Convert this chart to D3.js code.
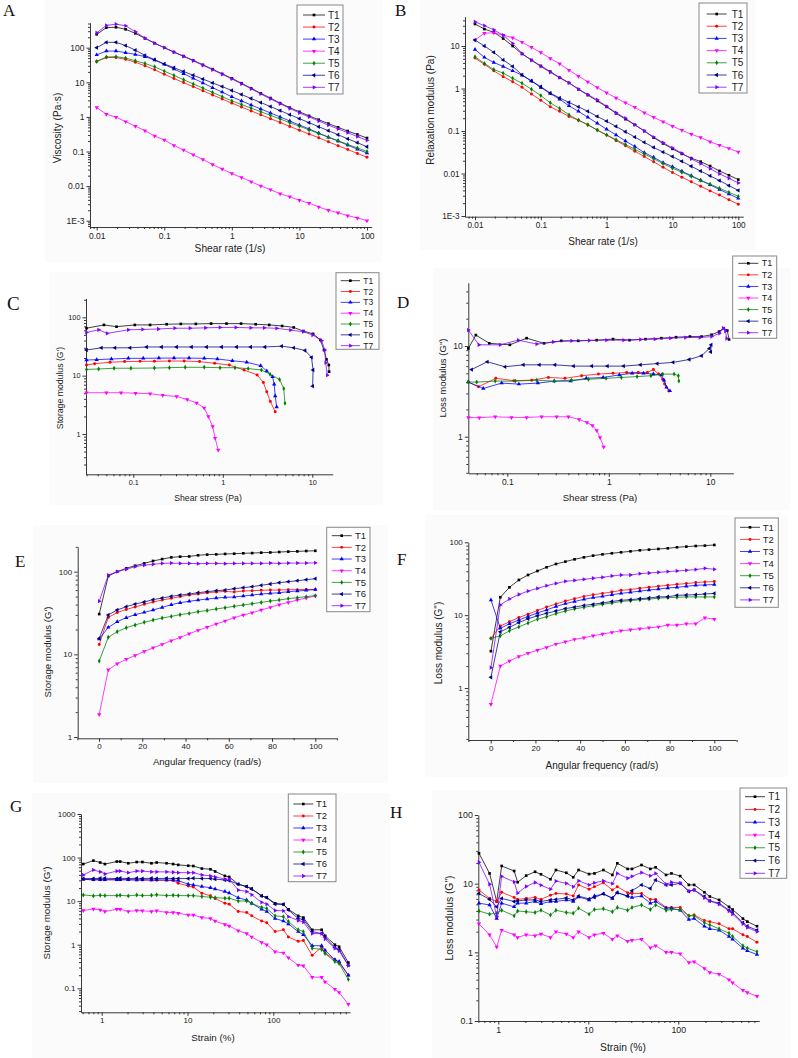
<!DOCTYPE html>
<html><head><meta charset="utf-8">
<script src="https://cdn.jsdelivr.net/npm/d3@7"></script>
<style>body{margin:0;background:#fff}svg{display:block}</style>
</head><body><svg id="c" width="798" height="1058"></svg>
<script>
// ---------------- DATA ----------------
const seriesNames = ["T1","T2","T3","T4","T5","T6","T7"];
const seriesColors = ["#000000","#ff0000","#0000ff","#ff00ff","#008000","#000080","#8000ff"];

// Panel A & B: shear rate (1/s)
const shearRate = [0.01,0.0139,0.0193,0.0268,0.0373,0.0518,0.072,0.1,0.139,0.193,0.268,0.373,0.518,0.72,1,1.39,1.93,2.68,3.73,5.18,7.2,10,13.9,19.3,26.8,37.3,51.8,72,100];
const viscosity = [
  [243,380,390,340,260,186,135,100,75,57,43,32,24,17.5,13,9.4,6.7,4.8,3.5,2.5,1.85,1.4,1.07,0.83,0.64,0.5,0.39,0.31,0.245],
  [40,52,52,46,38,30,23,17,12.9,9.8,7.5,5.7,4.3,3.3,2.5,1.93,1.49,1.15,0.89,0.69,0.53,0.41,0.32,0.25,0.19,0.147,0.114,0.088,0.068],
  [62,80,80,72,64,55,44,33,24.2,17.8,13,9.6,7,5.2,3.8,2.9,2.2,1.7,1.3,1.0,0.76,0.58,0.45,0.34,0.26,0.2,0.153,0.117,0.09],
  [1.87,1.2,0.98,0.73,0.54,0.4,0.28,0.215,0.15,0.11,0.08,0.059,0.042,0.031,0.023,0.0177,0.0134,0.0101,0.0079,0.006,0.0049,0.0039,0.0032,0.0025,0.002,0.0017,0.0014,0.0012,0.001],
  [40,54,55,50,42,35,28,21,15.8,11.9,9,6.8,5.1,3.85,2.9,2.28,1.79,1.41,1.11,0.87,0.68,0.54,0.42,0.33,0.26,0.205,0.16,0.127,0.1],
  [100,143,143,115,85,60,45,34,26.4,20.5,16,12.4,9.6,7.5,5.8,4.44,3.4,2.6,1.99,1.52,1.16,0.89,0.68,0.52,0.4,0.305,0.233,0.18,0.137],
  [270,440,480,430,290,190,135,100,74,56,42,31,23,17,12.5,9,6.5,4.6,3.3,2.4,1.75,1.3,1.0,0.76,0.58,0.45,0.35,0.27,0.21]
];
const relaxation = [
  [33,25,21,15,10,6.5,4.7,3.4,2.5,1.8,1.36,0.96,0.7,0.51,0.37,0.26,0.19,0.14,0.1,0.07,0.051,0.038,0.029,0.023,0.019,0.015,0.0115,0.0091,0.0072],
  [5.2,3.7,2.6,1.9,1.45,1.07,0.74,0.53,0.37,0.29,0.22,0.18,0.14,0.105,0.08,0.06,0.0448,0.0335,0.025,0.0188,0.014,0.0105,0.0082,0.0064,0.005,0.0039,0.0031,0.0024,0.0019],
  [8.3,5.4,4.1,3.3,2.6,2.06,1.5,1.06,0.76,0.56,0.39,0.29,0.21,0.152,0.11,0.081,0.058,0.043,0.031,0.024,0.018,0.0145,0.0113,0.0089,0.0069,0.0054,0.0042,0.0033,0.0026],
  [13.8,20,20.5,18,15.7,12.2,9.3,7,5.1,3.8,2.7,1.95,1.43,1.05,0.79,0.6,0.46,0.36,0.27,0.21,0.165,0.13,0.104,0.084,0.07,0.056,0.046,0.039,0.032],
  [5.6,3.9,2.8,2.3,1.74,1.33,0.96,0.68,0.46,0.34,0.24,0.18,0.14,0.105,0.081,0.0625,0.048,0.037,0.0287,0.0222,0.0171,0.0133,0.0107,0.0086,0.0069,0.0056,0.0045,0.0036,0.0029],
  [13.8,10,7.1,4.7,3.3,2.1,1.5,1.1,0.78,0.6,0.47,0.37,0.29,0.22,0.17,0.128,0.096,0.072,0.054,0.041,0.032,0.025,0.0193,0.0148,0.0114,0.0088,0.0068,0.0052,0.004],
  [37,30,24,18,11.5,6.7,4.6,3.3,2.4,1.8,1.35,0.97,0.72,0.54,0.38,0.27,0.2,0.14,0.1,0.072,0.053,0.04,0.03,0.022,0.017,0.013,0.0098,0.0077,0.006]
];

// Panel C: shear stress (Pa) vs storage modulus
const stressC = [
  [0.03,0.047,0.065,0.104,0.154,0.236,0.34,0.5,0.74,1.1,1.6,2.33,3.3,4.6,6.2,7.95,10.2,12.3,13.5,14.4,15.3,15.4],
  [0.03,0.037,0.055,0.08,0.119,0.172,0.253,0.37,0.55,0.81,1.18,1.73,2.42,2.84,3.1,3.4,3.85],
  [0.03,0.039,0.057,0.088,0.129,0.193,0.285,0.42,0.62,0.87,1.28,1.85,2.65,3.1,3.6,3.75,3.85,4.0],
  [0.03,0.05,0.073,0.106,0.154,0.213,0.305,0.4,0.51,0.62,0.69,0.77,0.82,0.89],
  [0.03,0.041,0.061,0.094,0.172,0.253,0.38,0.62,0.93,1.37,1.92,2.7,3.37,4.3,4.8,4.95],
  [0.03,0.044,0.0624,0.092,0.141,0.207,0.305,0.448,0.66,0.97,1.43,2.05,2.96,4.55,6.2,8.3,9.8,10.2,10.1],
  [0.03,0.041,0.051,0.088,0.127,0.19,0.29,0.43,0.64,0.93,1.4,2.05,2.9,4.0,5.7,7.95,10.1,12.7,13.8,14.1,14.7]
];
const storageC = [
  [65,74,69,74,74,76,77,77,78,78,78,76,74,71,67,58,52,41,27.5,19,15.2,11.7],
  [15.2,16,17,17.4,17.6,17.6,17.8,17.8,17.4,16.3,15.2,12.5,10.3,7.6,5.3,3.6,2.4],
  [18.5,18.8,19.3,19.8,19.8,20,20,20,19.8,19.3,18,17,14.8,12,9.6,7.1,4.5,2.9],
  [5.1,5.1,5.1,5.0,4.9,4.6,4.4,3.9,3.4,2.8,2.0,1.34,0.85,0.53],
  [12.8,13,13.4,13.4,13.5,13.7,13.9,13.9,13.7,13.7,13.2,12.5,10.6,8.6,6.0,3.35],
  [27.5,30,30,30,31,31,31,31,31,31,31,31,31,32,30,27,20.6,12.5,6.6],
  [55,61,53,61,62,63,65,65,66,67,67,66,66,64.8,60.5,56.6,49.7,39.7,27.5,16.7,10.2]
];

// Panel D: shear stress (Pa) vs loss modulus
const stressD = [
  [0.0413,0.049,0.0665,0.106,0.155,0.23,0.34,0.5,0.76,1.1,1.6,2.3,3.3,4.6,6.3,8.2,10.3,12.2,13.5,14.7,15.3],
  [0.0413,0.052,0.077,0.116,0.174,0.254,0.37,0.54,0.79,1.1,1.5,1.95,2.4,2.75,3.1,3.4,3.55,3.9],
  [0.0413,0.058,0.088,0.13,0.2,0.29,0.42,0.6,0.88,1.27,1.7,2.2,2.75,3.3,3.5,3.7,4.0],
  [0.0413,0.053,0.076,0.11,0.155,0.218,0.306,0.4,0.51,0.61,0.69,0.76,0.82,0.89],
  [0.0413,0.05,0.076,0.12,0.195,0.29,0.43,0.63,0.94,1.33,1.9,2.6,3.4,4.4,4.85,4.9],
  [0.0445,0.0636,0.095,0.144,0.207,0.295,0.45,0.68,0.97,1.4,2.05,3.0,4.3,6.2,8.2,9.8,10.2,10.1],
  [0.0413,0.0525,0.085,0.128,0.195,0.284,0.43,0.64,0.95,1.4,2.05,2.85,4.05,5.7,7.9,10.3,12.3,13.4,14.1,14.5]
];
const lossD = [
  [9.4,13.2,10.7,10.3,12.2,10.7,11.4,11.4,11.6,11.9,11.6,11.9,12.2,12.5,12.7,12.7,13.3,14.4,15.7,14.8,11.8],
  [4.0,3.55,4.4,4.15,4.2,4.5,4.4,4.7,4.9,5.0,5.1,5.1,5.1,5.5,4.9,4.3,3.8,3.2],
  [4.0,3.4,3.9,3.8,3.9,4.1,4.1,4.4,4.5,4.8,5.0,5.0,4.9,4.8,4.2,3.5,3.2],
  [1.63,1.62,1.66,1.63,1.63,1.66,1.66,1.66,1.55,1.43,1.33,1.17,0.98,0.77],
  [4.0,4.0,4.1,4.1,4.2,4.1,4.2,4.3,4.4,4.5,4.6,4.7,4.9,4.9,4.7,4.1],
  [5.5,6.7,5.9,6.2,6.2,6.2,6.0,6.0,6.0,6.0,6.2,6.4,6.6,7.1,7.8,9.4,10.3,8.6],
  [15,10.3,10.3,11.6,10.5,11.1,11.4,11.5,11.6,11.6,11.8,11.9,12.2,12.4,12.4,12.7,13.8,15.7,14.6,12.1]
];

// Panels E & F: angular frequency (rad/s)
const angFreq = [0.1,4.3,8.4,12.6,16.7,20.9,25,29.2,33.4,37.5,41.7,45.8,50,54.2,58.3,62.5,66.7,70.8,75,79.2,83.3,87.5,91.7,95.8,100];
const storageE = [
  [30.7,88.6,100,110,118,126,135,142,149,152,153,158,161,162,164,165,167,168,170,171,173,175,176,178,179],
  [13.2,28,32,35,37.4,40.3,43,45.4,47.6,50,52.2,53.7,55.7,56.8,57.8,56.8,58.4,58.9,59.5,60,60,60.6,60.6,61,61],
  [15.3,21.2,24.8,27.8,30.2,32.2,34.4,37,39.9,42.2,43.8,45.4,46.7,48,49,49.4,50.8,52.2,53.7,54.7,55.7,57.3,58.4,59.5,61],
  [1.87,6.5,7.7,8.7,9.7,10.8,12,13.2,14.6,16,17.8,19.5,21.3,23.3,25.3,27.8,29.9,31.9,34.4,37,39.9,42.5,45.4,48,50.8],
  [8.3,16.1,18.8,21,22.7,24.4,26,27.5,28.8,30.2,31.3,32.8,34,35.4,36.7,38.1,39.5,41,42.5,44.2,45.4,47.2,48.5,49.9,51.3],
  [15.6,30,34.4,37.7,40.6,43,45.9,48,50.3,52.2,53.7,55.7,57.3,58.9,60,62.3,64.1,65.9,68.4,71,73.6,75.7,77.8,80,82.3],
  [44,91,100,107,115,120,123,126,127,126,126,125,126,126,125,126,126,126,126,127,126,127,127,127,128]
];
const lossF = [
  [3.2,17.6,24.1,30.4,35.6,40.4,45.4,50.4,54.3,58.4,62.2,65.6,68.4,70.7,72.9,75.2,77.6,79.3,81,82.7,85.4,87.2,89,90,91.9],
  [4.8,7.1,8.1,9.3,10.3,11.6,12.9,14.2,15.6,16.8,18.1,19.1,19.9,20.8,21.9,22.4,23.4,24.1,24.9,25.7,26.5,27.1,28,28.6,28.9],
  [16.2,6.6,7.6,8.6,9.6,10.7,11.8,13.1,14.4,15.4,16.5,17.4,18.1,19.1,19.9,20.6,21.4,22.1,22.8,23.6,24.1,24.9,25.7,26,26.3],
  [0.6,2.0,2.35,2.7,3.0,3.3,3.6,4.0,4.3,4.65,4.9,5.2,5.5,5.8,6.1,6.3,6.5,6.7,6.9,7.3,7.3,7.6,7.6,9.2,8.8],
  [4.8,5.2,6.1,6.9,7.8,8.8,9.5,10.5,11.4,12.2,12.8,13.5,14.1,14.7,15.4,15.8,16.3,16.6,17.1,17.4,17.6,17.8,17.8,17.8,17.8],
  [1.4,5.9,6.8,7.9,8.9,9.8,10.6,11.4,12.3,12.9,13.6,14.1,14.7,15.4,16,16.3,16.8,17.2,17.8,17.9,18.7,18.9,19.1,19.5,19.9],
  [1.9,13.8,16.7,19.2,21.4,23.3,25.4,27.3,29.1,30,31,32.1,33.1,34.5,35.6,35.6,37.1,37.9,38.7,39.6,40.4,41.3,42.2,44,42.6]
];

// Panels G & H: strain (%)
const strain = [0.61,0.8,0.96,1.09,1.5,1.64,2.04,2.56,2.98,3.8,4.37,5.7,6.8,7.8,10.2,11.7,14.7,18.5,21,27.3,30.6,39,48.9,56,73.1,83.9,105,131,150,195,224,284,366,401,522,585,749];
const storageG = [
  [71,85,77,71,81,81,74,79,79,74,77,74,71,68,65,64,56,54,48,38,36,24.5,21.6,19.3,13.2,12.2,8.9,8.4,6.5,4.6,4.2,2.2,2.2,1.6,1.0,0.9,0.39],
  [31.6,31,31,31,31,31,31,31,30.5,30.5,30,30,29.6,25.7,22.3,21,15.2,13.3,11.5,8.9,8.5,5.8,5.5,4.6,3.5,3.2,2.0,2.2,1.5,1.2,1.25,0.57,0.88,0.65,0.45,0.39,0.2],
  [31.6,31,31,31,31,31,31,30.5,31,30.5,31,30.5,30.5,29.6,24.5,23.5,21.6,20.4,19,16.6,15.3,12,10.6,8.9,6.5,5.8,4.0,3.5,3.0,2.0,1.7,0.95,0.95,0.75,0.45,0.41,0.2],
  [6.1,6.6,6.3,5.8,6.5,6.5,5.8,6.1,6.0,5.8,6.0,5.5,5.5,5.3,4.8,4.8,4.2,4.0,3.5,2.9,2.7,2.1,1.8,1.5,1.13,1.0,0.69,0.65,0.5,0.34,0.33,0.18,0.18,0.14,0.095,0.08,0.043],
  [13.9,13.2,13.6,13.4,13.4,13.6,13.2,13.8,13.4,13.6,14.0,13.4,13.6,13.4,13.4,13.4,12.8,12.3,12.0,11.7,11.7,10.1,10.1,8.9,7.2,6.8,4.6,4.4,3.4,2.2,2.0,0.83,0.78,0.63,0.41,0.37,0.16],
  [33,33,33.5,33.5,33,33.5,33,33.5,33,33.5,33,33.5,33,33,33,33.5,33,33,32,30.6,29.6,24.5,21.6,19,13.2,12,8.5,8.5,6.3,4.0,3.8,2.0,1.8,1.5,0.86,0.78,0.34],
  [40,52,47,42,49,49,45,49,49,47,47,47,46,45,45,45,40,38,36,32,32,18,16.6,14,9.4,8.5,6.1,6,4.4,3.6,3.3,1.8,1.8,1.35,0.83,0.72,0.33]
];
const lossH = [
  [27.7,14.1,5.5,18.1,15.3,10.5,13.1,14.9,13.7,11.6,15.8,14.4,12.4,15.8,13.8,14.1,15.8,13.4,19.8,16.4,16.4,18.7,16.4,17.3,13.4,14.1,12.9,9.6,9.6,7.5,6.5,5.8,4.6,4.2,3.1,2.8,2.4],
  [8.1,6.1,5.5,7.5,6.3,5.9,6.1,6.3,5.9,6.8,7.2,7.1,6.6,9.6,8.3,9.0,10.3,8.1,9.0,7.4,7.2,7.2,5.9,5.9,4.5,4.5,4.5,3.4,3.5,2.9,2.8,2.6,2.2,2.2,1.8,1.7,1.4],
  [5.2,4.9,3.1,5.2,4.6,5.2,5.2,5.5,5.1,5.5,5.5,5.8,5.5,6.4,5.8,6.6,7.1,6.1,7.4,6.6,6.3,6.6,5.2,5.5,4.4,4.4,4.1,3.0,3.1,2.4,2.2,2.1,1.7,1.55,1.15,1.05,0.93],
  [2.6,1.8,1.2,2.1,1.8,1.65,1.8,1.75,1.85,1.65,2.0,1.85,1.65,2.0,1.65,1.8,1.9,1.55,1.75,1.45,1.5,1.55,1.17,1.25,1.0,1.0,0.95,0.71,0.73,0.58,0.51,0.48,0.4,0.36,0.28,0.26,0.23],
  [4.0,3.6,3.7,4.1,3.4,4.0,3.9,3.8,4.1,3.5,4.1,3.8,3.7,4.4,3.6,4.2,4.3,3.9,4.5,4.1,4.5,4.9,4.2,4.9,4.1,4.2,4.2,3.4,3.4,2.7,2.5,2.2,1.9,1.7,1.25,1.15,1.02],
  [7.2,5.9,4.6,6.1,5.5,5.6,5.8,5.8,5.5,5.8,5.9,6.2,5.8,6.6,6.0,6.3,7.1,6.2,7.4,6.6,7.9,9.6,8.5,11.3,9.6,9.6,10.1,7.7,8.1,6.5,5.6,5.2,4.1,3.8,2.7,2.4,2.1],
  [20.5,9.8,3.3,12.8,10.6,7.3,9.1,10.4,9.5,8.3,10.9,10.1,9.0,11.0,9.6,10.3,11.0,10.0,14.1,12.0,12.8,14.5,13.0,14.1,9.8,10.5,10.2,7.8,8.1,6.2,5.6,5.0,4.0,3.6,2.6,2.3,2.0]
];

// ---------------- DRAWING ----------------
const svg = d3.select("#c");
const FONT = "Arial, 'Liberation Sans', sans-serif";
const tri = d3.symbolTriangle;
const symbolDefs = [
  {t:d3.symbolSquare, s:7, r:0},
  {t:d3.symbolCircle, s:7, r:0},
  {t:tri, s:8, r:0},
  {t:tri, s:8, r:180},
  {t:d3.symbolDiamond, s:7, r:0},
  {t:tri, s:8, r:-90},
  {t:tri, s:8, r:90}
];

function makeScale(type, v1, p1, v2, p2, r0, r1) {
  const mk = () => type === "log" ? d3.scaleLog() : d3.scaleLinear();
  const base = mk().domain([v1, v2]).range([p1, p2]);
  return mk().domain([base.invert(r0), base.invert(r1)]).range([r0, r1]);
}
function logTicks(scale) {
  const d = scale.domain().slice().sort((a,b)=>a-b);
  const major = [], minor = [];
  for (let e = Math.floor(Math.log10(d[0])); e <= Math.ceil(Math.log10(d[1])); e++) {
    const p = +Math.pow(10, e).toPrecision(6);
    if (p >= d[0]*0.9999 && p <= d[1]*1.0001) major.push(p);
    for (let m = 2; m <= 9; m++) { const v = m*p; if (v >= d[0] && v <= d[1]) minor.push(v); }
  }
  return {major, minor};
}
function fmtLog(v) { return v < 0.005 ? "1E-3" : String(+v.toPrecision(3)); }

function panel(cfg) {
  const g = svg.append("g");
  g.append("rect").attr("x", cfg.bg[0]).attr("y", cfg.bg[1])
    .attr("width", cfg.bg[2]-cfg.bg[0]).attr("height", cfg.bg[3]-cfg.bg[1]).attr("fill", "#fbfbfb");
  const x = cfg.x, y = cfg.y;
  const xb = y.range()[0], xl = x.range()[0];
  let xMajor, xMinor, xFmt;
  if (cfg.xType === "log") { const t = logTicks(x); xMajor = t.major; xMinor = t.minor; xFmt = fmtLog; }
  else { xMajor = cfg.xMajor; xMinor = cfg.xMinor; xFmt = d => String(d); }
  const yt = logTicks(y);
  g.append("g").attr("transform", `translate(0,${xb})`)
    .call(d3.axisBottom(x).tickValues(xMinor).tickFormat("").tickSize(2).tickSizeOuter(0))
    .select(".domain").remove();
  g.append("g").attr("transform", `translate(0,${xb})`)
    .call(d3.axisBottom(x).tickValues(xMajor).tickFormat(xFmt).tickSize(3.5).tickPadding(2).tickSizeOuter(0));
  g.append("g").attr("transform", `translate(${xl},0)`)
    .call(d3.axisLeft(y).tickValues(yt.minor).tickFormat("").tickSize(2).tickSizeOuter(0))
    .select(".domain").remove();
  g.append("g").attr("transform", `translate(${xl},0)`)
    .call(d3.axisLeft(y).tickValues(yt.major).tickFormat(fmtLog).tickSize(3.5).tickPadding(2).tickSizeOuter(0));
  g.selectAll(".tick line, .domain").attr("stroke", "#222").attr("stroke-width", 0.9);
  g.selectAll(".tick text").attr("font-family", FONT).attr("font-size", cfg.tickFont).attr("fill", "#222");

  g.append("text").attr("x", cfg.xTitle[0]).attr("y", cfg.xTitle[1]).attr("text-anchor", "middle")
    .attr("font-family", FONT).attr("font-size", cfg.titleFont).attr("fill", "#222").text(cfg.xLabel);
  g.append("text").attr("transform", `translate(${cfg.yTitle[0]},${cfg.yTitle[1]}) rotate(-90)`)
    .attr("text-anchor", "middle").attr("dy", "0.35em")
    .attr("font-family", FONT).attr("font-size", cfg.titleFont).attr("fill", "#222").text(cfg.yLabel);
  g.append("text").attr("x", cfg.letter[0]).attr("y", cfg.letter[1])
    .attr("font-family", "'Liberation Serif','Times New Roman',serif").attr("font-size", cfg.letterFont || 17)
    .attr("fill", "#111").text(cfg.letter[2]);

  const line = d3.line().x(d => x(d[0])).y(d => y(d[1]));
  seriesNames.forEach((name, i) => {
    const xs = cfg.xsPerSeries ? cfg.xs[i] : cfg.xs;
    const pts = cfg.ys[i].map((v, k) => [xs[k], v]);
    g.append("path").datum(pts).attr("d", line).attr("fill", "none")
      .attr("stroke", seriesColors[i]).attr("stroke-width", 0.75);
    const sd = symbolDefs[i];
    g.append("g").selectAll("path").data(pts).join("path")
      .attr("transform", d => `translate(${x(d[0])},${y(d[1])}) rotate(${sd.r})`)
      .attr("d", d3.symbol().type(sd.t).size(sd.s)).attr("fill", seriesColors[i]);
  });

  const L = cfg.legend;
  g.append("rect").attr("x", L.box[0]).attr("y", L.box[1]).attr("width", L.box[2]-L.box[0])
    .attr("height", L.box[3]-L.box[1]).attr("fill", "#fff").attr("stroke", "#888").attr("stroke-width", 1);
  seriesNames.forEach((name, i) => {
    const yy = L.y0 + i*L.step;
    g.append("line").attr("x1", L.lx0).attr("x2", L.lx1).attr("y1", yy).attr("y2", yy)
      .attr("stroke", seriesColors[i]).attr("stroke-width", 0.75);
    const sd = symbolDefs[i];
    g.append("path").attr("transform", `translate(${(L.lx0+L.lx1)/2},${yy}) rotate(${sd.r})`)
      .attr("d", d3.symbol().type(sd.t).size(sd.s)).attr("fill", seriesColors[i]);
    g.append("text").attr("x", L.tx).attr("y", yy).attr("dy", "0.35em")
      .attr("font-family", FONT).attr("font-size", L.font).attr("fill", "#222").text(name);
  });
}

panel({
  bg:[45,0,382,262],
  x: makeScale("log", 0.01, 96.7, 100, 367, 90, 371.7), xType:"log",
  y: makeScale("log", 100, 47.7, 0.001, 220.7, 227, 22.7),
  xs: shearRate, ys: viscosity,
  xLabel:"Shear rate (1/s)", yLabel:"Viscosity (Pa·s)", xTitle:[230,252], yTitle:[57,128],
  titleFont:10.2, tickFont:8.5, letter:[3,16,"A"],
  legend:{box:[297,5,343,94], y0:15, step:12.05, lx0:303, lx1:325, tx:328, font:10}
});
panel({
  bg:[420,0,755,250],
  x: makeScale("log", 0.01, 475, 100, 738.3, 465, 743.3), xType:"log",
  y: makeScale("log", 10, 46, 0.001, 216, 216.7, 16.7),
  xs: shearRate, ys: relaxation,
  xLabel:"Shear rate (1/s)", yLabel:"Relaxation modulus (Pa)", xTitle:[603,245], yTitle:[430,110],
  titleFont:10, tickFont:8.2, letter:[395,16,"B"],
  legend:{box:[699,3,747,93], y0:14, step:12.2, lx0:706.7, lx1:726.7, tx:731.7, font:10}
});
panel({
  bg:[50,272,383,505],
  x: makeScale("log", 0.1, 133.3, 10, 312.3, 86, 332.7), xType:"log",
  y: makeScale("log", 100, 317.3, 1, 434, 474.3, 298.3),
  xs: stressC, xsPerSeries:true, ys: storageC,
  xLabel:"Shear stress (Pa)", yLabel:"Storage modulus (G')", xTitle:[208,501], yTitle:[60,388],
  titleFont:8.7, tickFont:7.3, letter:[7,310,"C"], letterFont:19,
  legend:{box:[336,272.7,379,349.3], y0:280.7, step:10.83, lx0:340.7, lx1:360, tx:363.3, font:8.5}
});
panel({
  bg:[433,268,790,510],
  x: makeScale("log", 0.1, 507.3, 10, 710.3, 468.3, 733.3), xType:"log",
  y: makeScale("log", 10, 346, 1, 436.7, 473.3, 282.7),
  xs: stressD, xsPerSeries:true, ys: lossD,
  xLabel:"Shear stress (Pa)", yLabel:"Loss modulus (G\")", xTitle:[600,501], yTitle:[443,378],
  titleFont:9.6, tickFont:8.5, letter:[397,308,"D"],
  legend:{box:[732.7,256,776.7,338.3], y0:263.3, step:11.57, lx0:738.3, lx1:758.3, tx:761.7, font:9}
});
panel({
  bg:[33,525,388,783],
  x: makeScale("linear", 0, 99, 100, 315.3, 77.7, 336.7), xType:"linear",
  xMajor:[0,20,40,60,80,100], xMinor:[-10,10,30,50,70,90,110],
  y: makeScale("log", 100, 571.7, 1, 737, 738.3, 546.7),
  xs: angFreq, ys: storageE,
  xLabel:"Angular frequency (rad/s)", yLabel:"Storage modulus (G')", xTitle:[207,765], yTitle:[48,652],
  titleFont:9.6, tickFont:8, letter:[15,567,"E"],
  legend:{box:[326.7,527.3,370,611.7], y0:535.7, step:11.67, lx0:331.7, lx1:351.7, tx:355, font:9.5}
});
panel({
  bg:[425,515,788,777],
  x: makeScale("linear", 0, 490.7, 100, 714.3, 468.3, 736), xType:"linear",
  xMajor:[0,20,40,60,80,100], xMinor:[-10,10,30,50,70,90,110],
  y: makeScale("log", 100, 542.3, 1, 688, 740, 542.3),
  xs: angFreq, ys: lossF,
  xLabel:"Angular frequency (rad/s)", yLabel:"Loss modulus (G\")", xTitle:[602,769], yTitle:[438,643],
  titleFont:10, tickFont:8, letter:[397,565,"F"],
  legend:{box:[735,518,778.3,607.3], y0:527.3, step:12.1, lx0:740, lx1:760, tx:762.7, font:9.5}
});
panel({
  bg:[32,793,390,1058],
  x: makeScale("log", 1, 101.7, 100, 273.3, 81, 350), xType:"log",
  y: makeScale("log", 1000, 814, 0.1, 988.3, 1012.3, 814),
  xs: strain, ys: storageG,
  xLabel:"Strain (%)", yLabel:"Storage modulus (G')", xTitle:[213,1041], yTitle:[47,913],
  titleFont:9.8, tickFont:8, letter:[10,812,"G"],
  legend:{box:[288.3,794,336,881.7], y0:804, step:12, lx0:293.3, lx1:313.3, tx:316, font:9.5}
});
panel({
  bg:[432,790,790,1058],
  x: makeScale("log", 1, 498.3, 100, 678.3, 478.3, 759.3), xType:"log",
  y: makeScale("log", 100, 815, 0.1, 1021, 1021, 815),
  xs: strain, ys: lossH,
  xLabel:"Strain (%)", yLabel:"Loss modulus (G\")", xTitle:[623,1051], yTitle:[449,918],
  titleFont:10.3, tickFont:8.8, letter:[390,818,"H"],
  legend:{box:[740,788,786.7,878.3], y0:796.7, step:12.77, lx0:745, lx1:765, tx:768.3, font:10}
});
</script>
</body></html>
